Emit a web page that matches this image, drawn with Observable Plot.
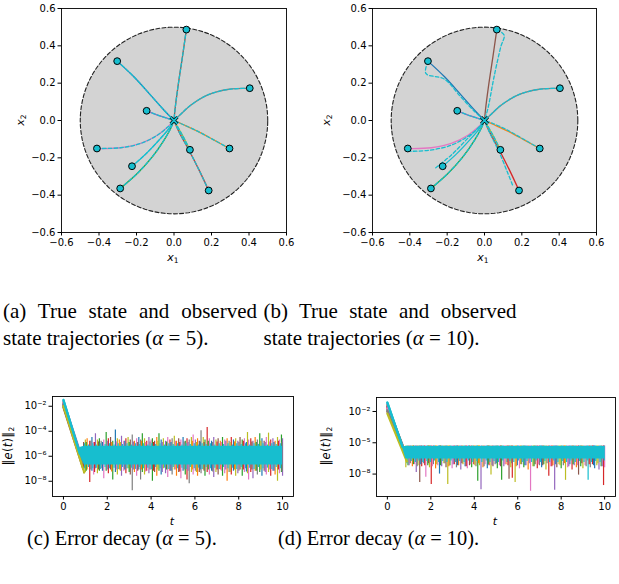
<!DOCTYPE html>
<html><head><meta charset="utf-8">
<script src="https://cdn.jsdelivr.net/npm/d3@7"></script>
<script src="https://cdn.jsdelivr.net/npm/@observablehq/plot@0.6"></script>
<style>
body{margin:0;background:#fff}
#fig{position:relative;width:619px;height:584px;overflow:hidden;background:#fff}
.panel{position:absolute}
.cap{position:absolute;font-family:"Liberation Serif",serif;font-size:21px;line-height:27.5px;color:#000}
.cap.small{font-size:20.4px}
.cap .j{text-align:justify;text-align-last:justify;white-space:nowrap}
.cap .l{white-space:nowrap}
.lab{position:absolute;font-family:"DejaVu Sans";font-size:11px;color:#000;white-space:nowrap;transform:translate(-50%,-50%)}
.lab.rot{transform:translate(-50%,-50%) rotate(-90deg)}
.lab.big{font-size:11.5px;letter-spacing:0.3px}
.lab sub{font-size:7.5px;vertical-align:-2px}
</style></head><body><div id="fig"></div>
<script>
// ---------- data ----------
const tab10 = ["#1f77b4","#ff7f0e","#2ca02c","#d62728","#9467bd","#8c564b","#e377c2","#7f7f7f","#bcbd22","#17becf"];
const stateTicks = [-0.6,-0.4,-0.2,0.0,0.2,0.4,0.6];
const timeTicks = [0,2,4,6,8,10];
const errTicksC = [-2,-4,-6,-8];
const errTicksD = [-2,-5,-8];
const regionRadius = 0.5;

// initial states (agent i uses tab10 colour i)
const startX = [-0.303, 0.296, -0.287, 0.185, -0.146, 0.066, -0.411, 0.404, 0.085, -0.224];
const startY = [ 0.318,-0.150, -0.364,-0.375,  0.052, 0.487, -0.150, 0.173,-0.157, -0.245];

// true state trajectories (same in both panels)
const trueTraj = [
  [[-0.303,0.318],[-0.214,0.234],[-0.125,0.136],[-0.053,0.055],[0,0]],
  [[0.296,-0.150],[0.214,-0.105],[0.125,-0.057],[0.045,-0.020],[0,0]],
  [[-0.287,-0.364],[-0.196,-0.284],[-0.116,-0.195],[-0.053,-0.105],[-0.018,-0.043],[0,0]],
  [[0.185,-0.375],[0.134,-0.266],[0.080,-0.159],[0.027,-0.061],[0,0]],
  [[-0.146,0.052],[-0.071,0.023],[0,0]],
  [[0.066,0.487],[0.045,0.341],[0.021,0.180],[0.005,0.055],[0,0]],
  [[-0.411,-0.150],[-0.285,-0.146],[-0.178,-0.123],[-0.089,-0.079],[-0.032,-0.034],[0,0]],
  [[0.404,0.173],[0.285,0.166],[0.178,0.136],[0.089,0.082],[0.036,0.034],[0,0]],
  [[0.085,-0.157],[0.045,-0.079],[0,0]],
  [[-0.224,-0.245],[-0.151,-0.180],[-0.080,-0.105],[-0.027,-0.043],[0,0]]
];
// observed trajectories, alpha = 5 (follow the true ones)
const obsTrajA = trueTraj;
// observed trajectories, alpha = 10
const obsTrajB = [
  [[-0.303,0.318],[-0.314,0.252],[-0.216,0.222],[-0.130,0.130],[-0.055,0.050],[0,0]],
  [[0.296,-0.150],[0.205,-0.098],[0.120,-0.050],[0.045,-0.016],[0,0]],
  [[-0.287,-0.364],[-0.196,-0.284],[-0.116,-0.195],[-0.053,-0.105],[-0.018,-0.043],[0,0]],
  [[0.150,-0.345],[0.122,-0.275],[0.076,-0.163],[0.026,-0.062],[0,0]],
  [[-0.146,0.052],[-0.071,0.023],[0,0]],
  [[0.066,0.487],[0.105,0.457],[0.087,0.394],[0.051,0.233],[0.020,0.072],[0,0]],
  [[-0.411,-0.165],[-0.300,-0.160],[-0.180,-0.133],[-0.089,-0.085],[-0.030,-0.036],[0,0]],
  [[0.404,0.173],[0.285,0.166],[0.178,0.136],[0.089,0.082],[0.036,0.034],[0,0]],
  [[0.085,-0.157],[0.045,-0.079],[0,0]],
  [[-0.261,-0.253],[-0.180,-0.187],[-0.091,-0.097],[-0.020,-0.026],[0,0]]
];

// error decay: [log10 at t=0, knee time, log10 at knee] per agent
const decayC = [[-1.8,0.80,-6.2],[-1.7,0.80,-6.0],[-2.0,0.85,-6.4],[-1.9,0.90,-6.8],[-1.6,0.75,-5.6],
                [-2.1,0.90,-7.0],[-1.75,0.80,-6.1],[-1.85,0.85,-6.5],[-2.0,0.95,-7.3],[-1.5,0.75,-5.8]];
const decayD = [[-1.5,0.75,-5.5],[-1.4,0.72,-5.4],[-1.8,0.80,-6.0],[-1.6,0.78,-5.8],[-1.3,0.70,-5.4],
                [-2.0,0.85,-6.3],[-1.7,0.80,-5.9],[-1.9,0.82,-6.2],[-2.2,0.90,-6.8],[-1.15,0.70,-5.4]];
// dense cyan core of the noise floor (log10)
const coreCT = [0.75, 0.95, 10], coreCLo = [-5.9, -6.7, -6.7], coreCHi = [-5.3, -5.2, -5.2];
const coreDT = [0.72, 0.85, 10], coreDLo = [-5.6, -6.55, -6.55], coreDHi = [-5.35, -5.35, -5.35];
// large noise excursions: [t, log10 high, log10 low, agent]
const spikesC = [
[0.92,-4.9,-7.4,5],[1.0,-4.7,-7.3,8],[1.08,-4.6,-7.1,1],[1.2,-4.8,-8.1,3],[1.3,-4.5,-7.2,0],[1.38,-4.9,-7.5,6],
[1.46,-4.2,-7.0,4],[1.55,-4.7,-7.4,8],[1.64,-4.6,-7.2,2],[1.72,-4.8,-7.0,7],[1.84,-4.7,-7.8,6],[1.95,-4.1,-7.2,2],
[2.05,-4.6,-7.4,3],[2.15,-4.5,-7.1,5],[2.25,-4.8,-7.9,2],[2.37,-3.9,-7.3,0],[2.46,-4.6,-7.5,8],[2.55,-4.7,-7.1,1],
[2.65,-4.4,-7.6,4],[2.75,-4.8,-7.2,6],[2.85,-4.6,-7.4,3],[2.95,-4.5,-7.0,8],[3.05,-4.7,-7.5,5],[3.14,-4.3,-8.75,7],
[3.24,-4.8,-7.3,1],[3.34,-4.6,-7.6,6],[3.44,-4.5,-7.1,0],[3.52,-4.7,-7.9,7],[3.6,-4.2,-7.3,2],[3.7,-4.6,-7.5,8],
[3.8,-4.8,-7.2,3],[3.9,-4.5,-7.4,4],[4.0,-4.7,-7.1,6],[4.06,-4.6,-8.0,2],[4.16,-4.8,-7.3,5],[4.26,-4.5,-7.6,1],
[4.36,-4.2,-7.2,2],[4.46,-4.7,-7.5,0],[4.56,-4.6,-7.0,8],[4.66,-4.8,-7.4,4],[4.76,-4.5,-7.7,6],[4.86,-4.7,-7.2,3],
[4.96,-4.6,-7.5,7],[5.06,-4.4,-7.1,8],[5.16,-4.8,-7.6,1],[5.26,-4.6,-7.3,5],[5.36,-4.7,-7.8,6],[5.46,-4.5,-7.2,0],
[5.56,-4.8,-7.5,2],[5.64,-4.6,-7.9,3],[5.74,-4.7,-8.2,7],[5.84,-4.5,-7.3,8],[5.92,-4.3,-7.5,6],[6.02,-4.7,-7.2,4],
[6.12,-4.6,-7.6,1],[6.2,-4.8,-7.3,5],[6.28,-3.95,-7.4,7],[6.38,-4.5,-7.1,8],[6.46,-4.7,-7.6,2],[6.56,-3.7,-7.3,3],
[6.66,-4.6,-7.5,6],[6.76,-4.8,-7.2,0],[6.86,-4.5,-7.7,4],[6.96,-4.7,-7.3,8],[7.06,-4.6,-7.5,5],[7.16,-4.8,-7.1,1],
[7.26,-4.5,-7.6,2],[7.36,-4.7,-7.4,6],[7.47,-4.6,-8.0,1],[7.56,-4.8,-7.3,7],[7.66,-4.5,-7.5,3],[7.76,-4.7,-7.2,0],
[7.86,-4.6,-7.6,8],[7.96,-4.8,-7.4,4],[8.06,-4.5,-7.1,5],[8.16,-4.7,-7.6,2],[8.26,-4.6,-7.3,6],[8.4,-4.1,-7.4,8],
[8.45,-4.7,-7.9,6],[8.55,-4.6,-7.3,3],[8.65,-4.8,-7.8,4],[8.75,-4.5,-7.2,1],[8.85,-4.7,-7.5,7],[8.96,-4.2,-7.3,2],
[9.06,-4.6,-7.6,0],[9.16,-4.8,-7.2,5],[9.26,-4.5,-7.5,6],[9.36,-4.15,-7.3,8],[9.46,-4.7,-7.6,3],[9.56,-4.6,-7.2,4],
[9.66,-4.8,-7.5,1],[9.77,-4.5,-8.0,8],[9.86,-4.7,-7.4,6],[9.95,-4.3,-7.3,2],[10.0,-4.6,-7.6,4]
];
// smaller excursions around the core: [t, log10 high, log10 low, agent]
const smallC = [
[0.96,-5.0,-7.0,9],[1.04,-4.9,-7.2,2],[1.14,-5.1,-6.9,9],[1.25,-4.8,-7.1,7],[1.34,-5.0,-7.0,9],[1.42,-4.9,-7.3,3],
[1.5,-5.1,-6.95,9],[1.6,-4.85,-7.1,5],[1.68,-5.0,-7.05,9],[1.78,-4.9,-7.2,0],[1.9,-5.05,-6.9,9],[2.0,-4.8,-7.1,4],
[2.1,-5.0,-7.0,9],[2.2,-4.9,-7.25,1],[2.31,-5.1,-6.95,9],[2.42,-4.85,-7.1,6],[2.5,-5.0,-7.05,9],[2.6,-4.9,-7.2,8],
[2.7,-5.05,-6.9,9],[2.8,-4.8,-7.1,0],[2.9,-5.0,-7.0,9],[3.0,-4.9,-7.3,2],[3.1,-5.1,-6.95,9],[3.19,-4.85,-7.1,4],
[3.29,-5.0,-7.05,9],[3.39,-4.9,-7.2,5],[3.48,-5.05,-6.9,9],[3.56,-4.8,-7.1,1],[3.65,-5.0,-7.0,9],[3.75,-4.9,-7.25,6],
[3.85,-5.1,-6.95,9],[3.95,-4.85,-7.1,7],[4.03,-5.0,-7.05,9],[4.11,-4.9,-7.2,3],[4.21,-5.05,-6.9,9],[4.31,-4.8,-7.1,8],
[4.41,-5.0,-7.0,9],[4.51,-4.9,-7.3,4],[4.61,-5.1,-6.95,9],[4.71,-4.85,-7.1,2],[4.81,-5.0,-7.05,9],[4.91,-4.9,-7.2,0],
[5.01,-5.05,-6.9,9],[5.11,-4.8,-7.1,6],[5.21,-5.0,-7.0,9],[5.31,-4.9,-7.25,3],[5.41,-5.1,-6.95,9],[5.51,-4.85,-7.1,7],
[5.6,-5.0,-7.05,9],[5.69,-4.9,-7.2,4],[5.79,-5.05,-6.9,9],[5.88,-4.8,-7.1,1],[5.97,-5.0,-7.0,9],[6.07,-4.9,-7.3,8],
[6.16,-5.1,-6.95,9],[6.24,-4.85,-7.1,0],[6.33,-5.0,-7.05,9],[6.42,-4.9,-7.2,5],[6.51,-5.05,-6.9,9],[6.61,-4.8,-7.1,2],
[6.71,-5.0,-7.0,9],[6.81,-4.9,-7.25,7],[6.91,-5.1,-6.95,9],[7.01,-4.85,-7.1,3],[7.11,-5.0,-7.05,9],[7.21,-4.9,-7.2,6],
[7.31,-5.05,-6.9,9],[7.41,-4.8,-7.1,4],[7.51,-5.0,-7.0,9],[7.61,-4.9,-7.3,8],[7.71,-5.1,-6.95,9],[7.81,-4.85,-7.1,1],
[7.91,-5.0,-7.05,9],[8.01,-4.9,-7.2,7],[8.11,-5.05,-6.9,9],[8.21,-4.8,-7.1,3],[8.31,-5.0,-7.0,9],[8.35,-4.9,-7.25,0],
[8.5,-5.1,-6.95,9],[8.6,-4.85,-7.1,5],[8.7,-5.0,-7.05,9],[8.8,-4.9,-7.2,2],[8.9,-5.05,-6.9,9],[9.01,-4.8,-7.1,8],
[9.11,-5.0,-7.0,9],[9.21,-4.9,-7.3,4],[9.31,-5.1,-6.95,9],[9.41,-4.85,-7.1,6],[9.51,-5.0,-7.05,9],[9.61,-4.9,-7.2,0],
[9.71,-5.05,-6.9,9],[9.81,-4.8,-7.1,3],[9.9,-5.0,-7.0,9],[9.98,-4.9,-7.25,7]
];
const spikesD = [
[0.85,-5.3,-7.4,8],[0.95,-5.3,-7.2,2],[1.05,-5.3,-7.0,5],[1.15,-5.3,-7.3,1],[1.25,-5.3,-7.1,6],[1.33,-5.3,-7.85,4],
[1.41,-5.3,-7.2,8],[1.49,-5.3,-8.8,5],[1.58,-5.3,-7.3,3],[1.68,-5.3,-7.0,0],[1.77,-5.3,-8.3,6],[1.86,-5.3,-7.2,2],
[1.94,-5.3,-7.4,8],[2.02,-5.3,-9.0,3],[2.12,-5.3,-7.1,7],[2.22,-5.3,-7.5,1],[2.32,-5.3,-7.2,6],[2.4,-5.3,-8.0,0],
[2.5,-5.3,-7.3,4],[2.6,-5.3,-7.0,8],[2.7,-5.3,-7.4,5],[2.78,-5.3,-9.0,8],[2.88,-5.3,-7.2,2],[2.98,-5.3,-7.5,6],
[3.08,-5.3,-7.1,3],[3.18,-5.3,-7.4,7],[3.28,-5.3,-7.2,1],[3.38,-5.3,-7.6,4],[3.48,-5.3,-7.1,8],[3.58,-5.3,-7.3,0],
[3.68,-5.3,-7.5,6],[3.78,-5.3,-7.2,5],[3.88,-5.3,-7.4,2],[3.98,-5.3,-7.1,3],[4.08,-5.3,-7.3,7],[4.16,-5.3,-8.7,2],
[4.24,-5.3,-7.2,8],[4.31,-5.3,-9.5,4],[4.4,-5.3,-7.4,1],[4.5,-5.3,-7.1,6],[4.6,-5.3,-7.5,0],[4.68,-5.3,-7.2,3],
[4.77,-5.3,-8.1,8],[4.86,-5.3,-7.3,5],[4.96,-5.3,-7.1,7],[5.06,-5.3,-7.5,2],[5.16,-5.3,-7.2,6],[5.26,-5.3,-8.6,2],
[5.36,-5.3,-7.3,4],[5.46,-5.3,-7.1,1],[5.6,-5.3,-8.5,5],[5.68,-5.3,-7.4,8],[5.75,-5.3,-8.4,3],[5.88,-5.3,-8.8,8],
[5.98,-5.3,-7.2,0],[6.08,-5.3,-7.5,6],[6.18,-5.3,-7.1,7],[6.28,-5.3,-7.4,2],[6.38,-5.3,-7.2,4],[6.48,-5.3,-7.6,1],
[6.59,-5.3,-9.65,6],[6.7,-5.3,-7.3,8],[6.8,-5.3,-7.1,5],[6.9,-5.3,-7.5,3],[7.0,-5.3,-7.2,7],[7.1,-5.3,-7.4,0],
[7.2,-5.3,-7.1,2],[7.3,-5.3,-7.6,8],[7.43,-5.3,-8.2,3],[7.52,-5.3,-7.3,6],[7.62,-5.3,-7.2,1],[7.7,-5.3,-9.55,4],
[7.8,-5.3,-7.4,5],[7.9,-5.3,-7.1,8],[8.0,-5.3,-7.5,2],[8.1,-5.3,-7.2,7],[8.2,-5.3,-8.6,8],[8.3,-5.3,-7.4,6],
[8.4,-5.3,-7.1,0],[8.5,-5.3,-7.6,3],[8.6,-5.3,-7.2,4],[8.7,-5.3,-7.4,1],[8.8,-5.3,-8.1,5],[8.9,-5.3,-7.3,2],
[9.0,-5.3,-7.5,8],[9.1,-5.3,-7.2,6],[9.24,-5.3,-8.6,9],[9.34,-5.3,-7.4,7],[9.44,-5.3,-7.1,3],[9.54,-5.3,-7.5,0],
[9.64,-5.3,-7.2,8],[9.74,-5.3,-7.6,4],[9.84,-5.3,-7.3,2],[9.95,-5.3,-9.1,3],[10.0,-5.3,-7.4,6]
];
const smallD = [
[0.9,-5.3,-7.0,9],[1.0,-5.3,-7.2,4],[1.1,-5.3,-6.8,9],[1.2,-5.3,-7.1,2],[1.29,-5.3,-6.9,9],[1.37,-5.3,-7.3,7],
[1.45,-5.3,-6.75,9],[1.54,-5.3,-7.1,0],[1.63,-5.3,-6.9,9],[1.72,-5.3,-7.2,3],[1.82,-5.3,-6.8,9],[1.9,-5.3,-7.0,5],
[1.98,-5.3,-6.9,9],[2.07,-5.3,-7.3,6],[2.17,-5.3,-6.75,9],[2.27,-5.3,-7.1,8],[2.36,-5.3,-6.9,9],[2.45,-5.3,-7.2,2],
[2.55,-5.3,-6.8,9],[2.65,-5.3,-7.0,7],[2.74,-5.3,-6.9,9],[2.83,-5.3,-7.3,1],[2.93,-5.3,-6.75,9],[3.03,-5.3,-7.1,4],
[3.13,-5.3,-6.9,9],[3.23,-5.3,-7.2,0],[3.33,-5.3,-6.8,9],[3.43,-5.3,-7.0,5],[3.53,-5.3,-6.9,9],[3.63,-5.3,-7.3,3],
[3.73,-5.3,-6.75,9],[3.83,-5.3,-7.1,6],[3.93,-5.3,-6.9,9],[4.03,-5.3,-7.2,8],[4.12,-5.3,-6.8,9],[4.2,-5.3,-7.0,1],
[4.35,-5.3,-6.9,9],[4.45,-5.3,-7.3,7],[4.55,-5.3,-6.75,9],[4.64,-5.3,-7.1,2],[4.72,-5.3,-6.9,9],[4.82,-5.3,-7.2,4],
[4.91,-5.3,-6.8,9],[5.01,-5.3,-7.0,0],[5.11,-5.3,-6.9,9],[5.21,-5.3,-7.3,5],[5.31,-5.3,-6.75,9],[5.41,-5.3,-7.1,6],
[5.51,-5.3,-6.9,9],[5.55,-5.3,-7.2,3],[5.64,-5.3,-6.8,9],[5.72,-5.3,-7.0,7],[5.82,-5.3,-6.9,9],[5.93,-5.3,-7.3,1],
[6.03,-5.3,-6.75,9],[6.13,-5.3,-7.1,8],[6.23,-5.3,-6.9,9],[6.33,-5.3,-7.2,0],[6.43,-5.3,-6.8,9],[6.53,-5.3,-7.0,4],
[6.64,-5.3,-6.9,9],[6.75,-5.3,-7.3,2],[6.85,-5.3,-6.75,9],[6.95,-5.3,-7.1,6],[7.05,-5.3,-6.9,9],[7.15,-5.3,-7.2,5],
[7.25,-5.3,-6.8,9],[7.35,-5.3,-7.0,7],[7.47,-5.3,-6.9,9],[7.57,-5.3,-7.3,3],[7.66,-5.3,-6.75,9],[7.75,-5.3,-7.1,0],
[7.85,-5.3,-6.9,9],[7.95,-5.3,-7.2,8],[8.05,-5.3,-6.8,9],[8.15,-5.3,-7.0,1],[8.25,-5.3,-6.9,9],[8.35,-5.3,-7.3,4],
[8.45,-5.3,-6.75,9],[8.55,-5.3,-7.1,2],[8.65,-5.3,-6.9,9],[8.75,-5.3,-7.2,6],[8.85,-5.3,-6.8,9],[8.95,-5.3,-7.0,5],
[9.05,-5.3,-6.9,9],[9.15,-5.3,-7.3,7],[9.2,-5.3,-6.75,9],[9.29,-5.3,-7.1,3],[9.39,-5.3,-6.9,9],[9.49,-5.3,-7.2,0],
[9.59,-5.3,-6.8,9],[9.69,-5.3,-7.0,8],[9.79,-5.3,-6.9,9],[9.89,-5.3,-7.3,4],[9.98,-5.3,-6.75,9]
];

// ---------- drawing ----------
const fig = document.getElementById("fig");
const baseStyle = {fontFamily: "DejaVu Sans", fontSize: "10px", color: "black", background: "transparent", overflow: "visible"};
const SUP = {"-":"\u207B","0":"\u2070","1":"\u00B9","2":"\u00B2","3":"\u00B3","4":"\u2074","5":"\u2075","6":"\u2076","7":"\u2077","8":"\u2078","9":"\u2079"};
const pow10 = e => "10" + String(e).split("").map(c => SUP[c]).join("");
const fmtState = d => d3.format(".1f")(d);

function place(el, left, top) {
  const w = document.createElement("div");
  w.className = "panel"; w.style.left = left + "px"; w.style.top = top + "px";
  w.appendChild(el); fig.appendChild(w);
}
function label(html, x, y, cls) {
  const d = document.createElement("div");
  d.className = "lab " + (cls || "");
  d.style.left = x + "px"; d.style.top = y + "px"; d.innerHTML = html;
  fig.appendChild(d);
}

function trajPlot(obs, width, ml, mr) {
  const circle = d3.range(0, 361, 3).map(a => [regionRadius*Math.cos(a*Math.PI/180), regionRadius*Math.sin(a*Math.PI/180)]);
  const rows = tr => tr.flatMap((p, a) => p.map(([x, y]) => ({a, x, y})));
  const starts = startX.map((x, i) => ({x, y: startY[i]}));
  return Plot.plot({
    width, height: 262, marginLeft: ml, marginRight: mr, marginTop: 8, marginBottom: 30,
    style: baseStyle,
    x: {domain: [-0.6, 0.6], ticks: stateTicks, tickFormat: fmtState, tickSize: 3.5, tickPadding: 3, label: null},
    y: {domain: [-0.6, 0.6], ticks: stateTicks, tickFormat: fmtState, tickSize: 3.5, tickPadding: 2.5, label: null},
    color: {type: "identity"},
    marks: [
      Plot.line(circle, {x: d => d[0], y: d => d[1], fill: "#d3d3d3", stroke: "#222", strokeWidth: 1.1, strokeDasharray: "4,2.2", curve: "linear-closed"}),
      Plot.line(rows(trueTraj), {x: "x", y: "y", z: "a", stroke: d => tab10[d.a], strokeWidth: 1.3, curve: "catmull-rom"}),
      Plot.line(rows(obs), {x: "x", y: "y", z: "a", stroke: "#17becf", strokeWidth: 1.3, strokeDasharray: "3.5,2.2", curve: "catmull-rom"}),
      Plot.dot([{x: 0, y: 0}], {x: "x", y: "y", symbol: "times", r: 3.2, stroke: "#000", strokeWidth: 3}),
      Plot.dot([{x: 0, y: 0}], {x: "x", y: "y", symbol: "times", r: 3.2, stroke: "#17becf", strokeWidth: 1.8}),
      Plot.dot(starts, {x: "x", y: "y", r: 3.4, fill: "#17becf", stroke: "#000", strokeWidth: 1}),
      Plot.frame({stroke: "#000", strokeWidth: 0.9})
    ]
  });
}

function errPlot(decay, coreT, coreLo, coreHi, spikes, small, yTicks, yDomain, width, ml, mr, mt, mb) {
  const dRows = decay.flatMap(([s, kt, kv], a) => [{a, t: 0, v: s}, {a, t: kt, v: kv}]);
  const core = coreT.map((t, i) => ({t, lo: coreLo[i], hi: coreHi[i]}));
  const rule = (data, w) => Plot.ruleX(data, {x: d => d[0], y1: d => 10 ** d[2], y2: d => 10 ** d[1], stroke: d => tab10[d[3]], strokeWidth: w});
  return Plot.plot({
    width, height: 140, marginLeft: ml, marginRight: mr, marginTop: mt, marginBottom: mb,
    style: baseStyle,
    x: {domain: [-0.5, 10.5], ticks: timeTicks, tickSize: 3.5, tickPadding: 3, label: null},
    y: {type: "log", domain: yDomain.map(e => 10 ** e), ticks: yTicks.map(e => 10 ** e),
        tickFormat: d => pow10(Math.round(Math.log10(d))), tickSize: 3.5, tickPadding: 2.5, label: null},
    color: {type: "identity"},
    marks: [
      rule(spikes, 1.2),
      rule(small, 1.2),
      Plot.line(dRows, {x: "t", y: d => 10 ** d.v, z: "a", stroke: d => tab10[d.a], strokeWidth: 2.2}),
      Plot.areaY(core, {x: "t", y1: d => 10 ** d.lo, y2: d => 10 ** d.hi, fill: "#17becf"}),
      Plot.line(dRows.filter(d => d.a === 9), {x: "t", y: d => 10 ** d.v, stroke: "#17becf", strokeWidth: 2.2}),
      Plot.frame({stroke: "#000", strokeWidth: 0.9})
    ]
  });
}

place(trajPlot(obsTrajA, 300, 61, 14), 0, 0);
place(trajPlot(obsTrajB, 314, 67, 23), 305, 0);
place(errPlot(decayC, coreCT, coreCLo, coreCHi, spikesC, smallC, errTicksC, [-9.22, -1.22], 310, 52, 17, 16, 24), 0, 380);
place(errPlot(decayD, coreDT, coreDLo, coreDHi, spikesD, smallD, errTicksD, [-10.15, -0.66], 309, 66, 4, 17, 24), 310, 380);

// axis labels
label("<i>x</i><sub>1</sub>", 173, 258); label("<i>x</i><sub>2</sub>", 21, 120, "rot");
label("<i>x</i><sub>1</sub>", 483, 258); label("<i>x</i><sub>2</sub>", 327, 120, "rot");
label("<i>t</i>", 172, 521); label("<i>t</i>", 495, 521);
label("\u2016<i>e</i>(<i>t</i>)\u2016<sub>2</sub>", 8, 446, "rot big");
label("\u2016<i>e</i>(<i>t</i>)\u2016<sub>2</sub>", 326, 446, "rot big");

// captions
function caption(html, left, top, width, cls) {
  const d = document.createElement("div");
  d.className = "cap " + (cls || ""); d.style.left = left + "px"; d.style.top = top + "px";
  if (width) d.style.width = width + "px";
  d.innerHTML = html; fig.appendChild(d);
}
caption('<div class="j">(a) True state and observed</div><div class="l">state trajectories (<i>α</i> = 5).</div>', 3, 297.5, 254);
caption('<div class="j">(b) True state and observed</div><div class="l">state trajectories (<i>α</i> = 10).</div>', 263.5, 297.5, 253);
caption('<div class="l">(c) Error decay (<i>α</i> = 5).</div>', 27, 525, null, "small");
caption('<div class="l">(d) Error decay (<i>α</i> = 10).</div>', 278, 525, null, "small");
</script></body></html>
